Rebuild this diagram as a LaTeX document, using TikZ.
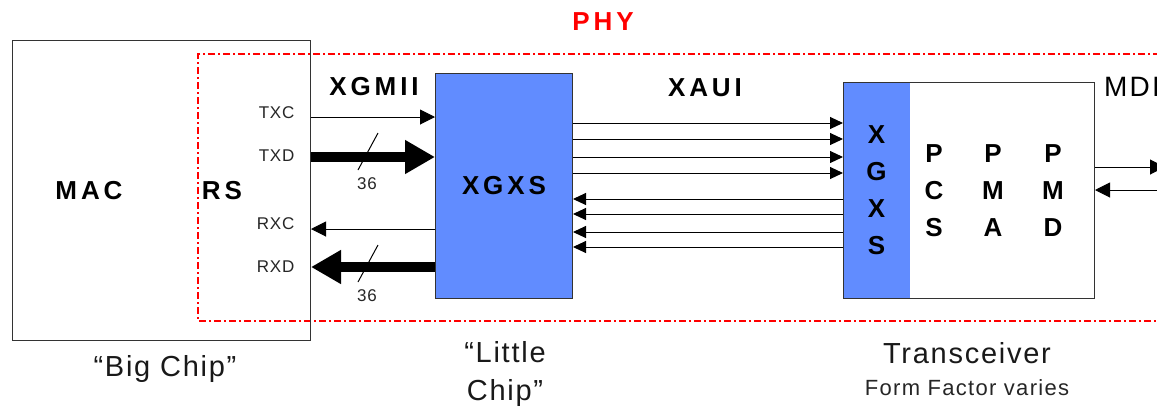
\documentclass[tikz,border=0pt]{standalone}
\usepackage{fontspec}
\setmainfont{Liberation Sans}
\usetikzlibrary{positioning, arrows.meta}
\definecolor{chipblue}{HTML}{618CFF}
\definecolor{phyred}{HTML}{FF0000}

\begin{document}
\begin{tikzpicture}[x=1pt, y=-1pt,
    box/.style={draw=black!80, line width=1pt, anchor=north west, inner sep=0pt},
    blk/.style={font=\fontsize{26}{37}\selectfont\bfseries\addfontfeatures{LetterSpace=15}, align=center},
    pin/.style={font=\fontsize{17}{20}\selectfont\addfontfeatures{LetterSpace=5}, anchor=east, text=black!85},
    chiplabel/.style={font=\fontsize{29}{38}\selectfont\addfontfeatures{LetterSpace=6}, align=center, text=black!90},
    sig/.style={line width=1pt, -{Triangle[length=15pt, width=15pt]}},
    bus/.style={line width=10pt, -{Triangle[length=30pt, width=32pt]}},
    lane/.style={line width=1pt, -{Triangle[length=13pt, width=12pt]}}]
  \useasboundingbox (0,0) rectangle (1157,408);
  % PHY boundary
  \draw[phyred, line width=1.5pt, dash pattern=on 7pt off 3pt on 2pt off 3pt]
    (1160,54) -- (198,54) -- (198,321) -- (1160,321);
  \node[blk, text=phyred] (phy) at (603,22) {PHY};
  % big chip
  \node[box, minimum width=298pt, minimum height=300pt] (mac) at (12,40) {};
  \node[blk] (mactxt) at (89,191) {MAC};
  \node[blk] (rs) at (222,191) {RS};
  \node[pin] (txc) at (298,113) {TXC};
  \node[pin] (txd) at (298,156) {TXD};
  \node[pin] (rxc) at (298,224) {RXC};
  \node[pin] (rxd) at (298,267) {RXD};
  % little chip
  \node[box, fill=chipblue, minimum width=137pt, minimum height=225pt, blk] (xgxs) at (435,73) {XGXS};
  \node[blk] (xgmii) at (374,87) {XGMII};
  \node[blk] (xaui) at (705,88) {XAUI};
  % transceiver
  \node[box, fill=chipblue, draw=none, minimum width=66pt, minimum height=216pt, blk] (xgxsb) at (843,82) {X\\G\\X\\S};
  \node[box, minimum width=251pt, minimum height=216pt] (xcvr) at (843,82) {};
  \node[blk] (pcs) at (934,191) {P\\C\\S};
  \node[blk] (pma) at (993,191) {P\\M\\A};
  \node[blk] (pmd) at (1053,191) {P\\M\\D};
  \node[font=\fontsize{28}{30}\selectfont\addfontfeatures{LetterSpace=8}, anchor=west, inner sep=0pt] (mdi) at (1104,87) {MDI};
  % XGMII signals
  \draw[sig] (mac.east |- 0,117) -- (xgxs.west |- 0,117);
  \draw[bus] (mac.east |- 0,157) -- (xgxs.west |- 0,157);
  \draw[sig] (xgxs.west |- 0,229) -- (mac.east |- 0,229);
  \draw[bus] (xgxs.west |- 0,267) -- (mac.east |- 0,267);
  \draw[line width=1pt] (358,170) -- (378,133);
  \draw[line width=1pt] (358,282) -- (378,245);
  \node[pin, anchor=center] (txw) at (367,184) {36};
  \node[pin, anchor=center] (rxw) at (367,296) {36};
  % XAUI lanes
  \foreach \y in {123,139,157,173}
    \draw[lane] (xgxs.east |- 0,\y) -- (xcvr.west |- 0,\y);
  \foreach \y in {199,214,232,247}
    \draw[lane] (xcvr.west |- 0,\y) -- (xgxs.east |- 0,\y);
  % MDI
  \coordinate (mdiout) at (1165,167);
  \coordinate (mdiin) at (1160,190);
  \draw[sig] (xcvr.east |- 0,167) -- (mdiout);
  \draw[sig] (mdiin) -- (xcvr.east |- 0,190);
  % captions
  \node[chiplabel] (bigcap) at (165,369) {“Big Chip”};
  \node[chiplabel] (littlecap) at (505,374) {“Little\\Chip”};
  \node[chiplabel] (xcvrcap) at (967,353) {Transceiver};
  \node[font=\fontsize{22}{24}\selectfont\addfontfeatures{LetterSpace=6}, text=black!85] (ffcap) at (967,388) {Form Factor varies};
\end{tikzpicture}
\end{document}
